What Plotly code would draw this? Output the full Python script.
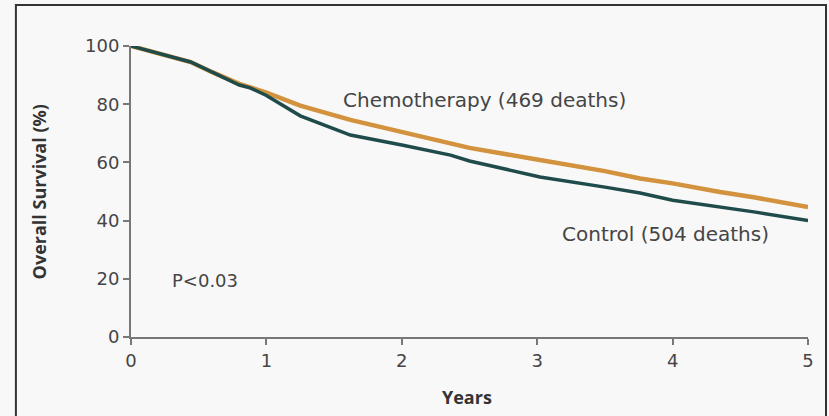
import plotly.graph_objects as go

# Data
control_years = [0, 0.2, 0.44, 0.6, 0.8, 0.88, 1.0, 1.25, 1.62, 2.0, 2.36, 2.5, 3.02, 3.5, 3.76, 4.0, 4.35, 4.6, 5.0]
control_surv = [100, 97.5, 94.5, 91, 86.6, 85.6, 83, 76, 69.4, 66, 62.5, 60.5, 55, 51.5, 49.5, 47, 44.7, 43, 40]

chemo_years = [0, 0.2, 0.44, 0.6, 0.8, 1.0, 1.25, 1.62, 2.0, 2.36, 2.5, 3.02, 3.5, 3.76, 4.0, 4.35, 4.6, 5.0]
chemo_surv = [100, 97.5, 94.5, 91, 87, 84, 79.5, 74.6, 70.5, 66.5, 65, 60.8, 57, 54.5, 52.8, 49.8, 48, 44.7]

x_ticks = [0, 1, 2, 3, 4, 5]
y_ticks = [0, 20, 40, 60, 80, 100]

FONT = "DejaVu Sans"
TXT = "#454545"
AX = "#777777"

fig = go.Figure()
fig.add_trace(go.Scatter(x=chemo_years, y=chemo_surv, mode="lines",
                         line=dict(color="#d3923d", width=4.5), name="Chemotherapy"))
fig.add_trace(go.Scatter(x=control_years, y=control_surv, mode="lines",
                         line=dict(color="#1f4c4a", width=3.5), name="Control"))

fig.update_layout(
    width=829, height=416,
    margin=dict(l=131, r=21, t=46, b=79),
    paper_bgcolor="#f8f8f8", plot_bgcolor="#f8f8f8",
    showlegend=False,
    font=dict(family=FONT, color=TXT, size=16),
)
fig.update_xaxes(range=[0, 5], tickvals=x_ticks, ticks="outside", ticklen=6, tickwidth=2,
                 tickcolor=AX, showline=True, linecolor=AX, linewidth=2, showgrid=False,
                 zeroline=False, tickfont=dict(size=18, color=TXT, family=FONT))
fig.update_yaxes(range=[0, 100], tickvals=y_ticks, ticks="outside", ticklen=6, tickwidth=2,
                 tickcolor=AX, showline=True, linecolor=AX, linewidth=2, showgrid=False,
                 zeroline=False, tickfont=dict(size=18, color=TXT, family=FONT))

fig.add_annotation(text="Chemotherapy (469 deaths)", x=2.61, y=81.4, xref="x", yref="y",
                   showarrow=False, xanchor="center", yanchor="middle",
                   font=dict(size=20, color=TXT, family=FONT))
fig.add_annotation(text="Control (504 deaths)", x=3.95, y=35.4, xref="x", yref="y",
                   showarrow=False, xanchor="center", yanchor="middle",
                   font=dict(size=20, color=TXT, family=FONT))
fig.add_annotation(text="P<0.03", x=0.547, y=19.3, xref="x", yref="y",
                   showarrow=False, xanchor="center", yanchor="middle",
                   font=dict(size=18, color=TXT, family=FONT))
fig.add_annotation(text="<b>Overall Survival (%)</b>", x=-0.136, y=0.5, xref="paper", yref="paper",
                   textangle=-90, showarrow=False, xanchor="center", yanchor="middle",
                   font=dict(size=18, color="#333333", family="Open Sans"))
fig.add_annotation(text="<b>Years</b>", x=0.497, y=-0.206, xref="paper", yref="paper",
                   showarrow=False, xanchor="center", yanchor="middle",
                   font=dict(size=18, color="#333333", family="Open Sans"))

# outer frame
fig.add_shape(type="rect", xref="paper", yref="paper", x0=-0.170, x1=1.0266, y0=-0.30, y1=1.141,
              line=dict(color="#333333", width=2), fillcolor="rgba(0,0,0,0)", layer="below")

fig.write_html("out.html")
